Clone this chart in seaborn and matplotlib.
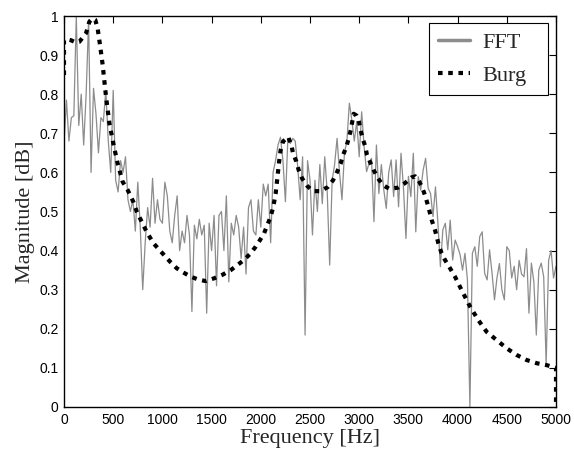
import numpy as np
import pandas as pd
import matplotlib
matplotlib.use("Agg")
import matplotlib.pyplot as plt
import seaborn as sns

# ---- data ----
fft_step = 25  # Hz between FFT bins
fft_mag = [
    # 0 - 475 Hz
    0.675, 0.785, 0.68, 0.74, 0.745, 1.0, 0.72, 0.80, 0.67, 0.80,
    0.99, 0.60, 0.815, 0.75, 0.65, 0.74, 0.73, 0.81, 0.68, 0.60,
    # 500 - 975 Hz
    0.81, 0.58, 0.55, 0.63, 0.60, 0.64, 0.53, 0.50, 0.53, 0.45,
    0.575, 0.46, 0.30, 0.42, 0.51, 0.46, 0.585, 0.47, 0.53, 0.48,
    # 1000 - 1475 Hz
    0.47, 0.575, 0.54, 0.45, 0.42, 0.49, 0.54, 0.40, 0.45, 0.42,
    0.49, 0.44, 0.244, 0.465, 0.43, 0.48, 0.44, 0.465, 0.24, 0.47,
    # 1500 - 1975 Hz
    0.40, 0.49, 0.31, 0.49, 0.50, 0.40, 0.54, 0.32, 0.47, 0.44,
    0.49, 0.46, 0.38, 0.46, 0.34, 0.51, 0.53, 0.45, 0.44, 0.53,
    # 2000 - 2475 Hz
    0.46, 0.57, 0.54, 0.57, 0.42, 0.60, 0.63, 0.67, 0.69, 0.63,
    0.525, 0.687, 0.674, 0.687, 0.68, 0.615, 0.53, 0.64, 0.184, 0.63,
    # 2500 - 2975 Hz
    0.58, 0.44, 0.58, 0.50, 0.62, 0.52, 0.64, 0.55, 0.363, 0.58,
    0.62, 0.687, 0.60, 0.53, 0.65, 0.68, 0.777, 0.734, 0.68, 0.73,
    # 3000 - 3475 Hz
    0.64, 0.755, 0.666, 0.602, 0.623, 0.636, 0.474, 0.67, 0.546, 0.62,
    0.555, 0.508, 0.60, 0.632, 0.538, 0.632, 0.512, 0.649, 0.56, 0.431,
    # 3500 - 3975 Hz
    0.59, 0.538, 0.649, 0.448, 0.589, 0.555, 0.606, 0.636, 0.56, 0.546,
    0.487, 0.563, 0.47, 0.359, 0.453, 0.47, 0.402, 0.478, 0.376, 0.427,
    # 4000 - 4475 Hz
    0.41, 0.39, 0.35, 0.393, 0.325, 0.0, 0.393, 0.41, 0.36, 0.436,
    0.448, 0.342, 0.325, 0.402, 0.342, 0.274, 0.33, 0.367, 0.30, 0.274,
    # 4500 - 5000 Hz
    0.41, 0.40, 0.33, 0.36, 0.30, 0.375, 0.34, 0.333, 0.405, 0.24,
    0.368, 0.32, 0.184, 0.35, 0.368, 0.333, 0.11, 0.375, 0.40, 0.33,
    0.36,
]
fft_freq = [i * fft_step for i in range(len(fft_mag))]

burg_freq = [
    0, 0, 37, 71, 122, 156, 190, 224, 257, 291, 318, 342, 366, 393, 427,
    461, 501, 545, 596, 647, 704, 739, 789, 840, 908, 976, 1026, 1084,
    1145, 1213, 1291, 1365, 1440, 1524, 1609, 1694, 1762, 1829, 1897,
    1948, 1992, 2033, 2066, 2100, 2127, 2151, 2168, 2185, 2200, 2226,
    2277, 2311, 2327, 2361, 2385, 2419, 2473, 2531, 2609, 2683, 2734,
    2775, 2812, 2836, 2870, 2893, 2914, 2944, 2975, 2995, 3012, 3035,
    3062, 3079, 3113, 3147, 3191, 3239, 3306, 3395, 3462, 3530, 3570,
    3598, 3638, 3672, 3703, 3737, 3771, 3804, 3838, 3872, 3923, 3974,
    4025, 4075, 4126, 4211, 4296, 4398, 4499, 4601, 4703, 4804, 4906,
    5000, 5000,
]
burg_mag = [
    0.849, 0.939, 0.94, 0.938, 0.932, 0.934, 0.945, 0.956, 0.985, 0.994,
    0.99, 0.968, 0.926, 0.875, 0.794, 0.726, 0.674, 0.623, 0.576, 0.555,
    0.525, 0.50, 0.474, 0.448, 0.419, 0.40, 0.386, 0.37, 0.355, 0.344,
    0.333, 0.326, 0.322, 0.329, 0.338, 0.35, 0.363, 0.376, 0.393, 0.41,
    0.427, 0.444, 0.465, 0.487, 0.512, 0.546, 0.585, 0.625, 0.655, 0.679,
    0.691, 0.67, 0.649, 0.628, 0.606, 0.585, 0.565, 0.552, 0.552, 0.563,
    0.58, 0.601, 0.623, 0.644, 0.666, 0.687, 0.708, 0.75, 0.745, 0.734,
    0.71, 0.687, 0.666, 0.645, 0.625, 0.606, 0.585, 0.568, 0.558, 0.561,
    0.572, 0.587, 0.59, 0.582, 0.563, 0.539, 0.512, 0.478, 0.452, 0.419,
    0.393, 0.376, 0.355, 0.333, 0.307, 0.282, 0.257, 0.222, 0.192, 0.171,
    0.150, 0.133, 0.120, 0.112, 0.107, 0.10, 0.0,
]

x_ticks = [0, 500, 1000, 1500, 2000, 2500, 3000, 3500, 4000, 4500, 5000]
y_ticks = [0, 0.1, 0.2, 0.3, 0.4, 0.5, 0.6, 0.7, 0.8, 0.9, 1.0]
y_tick_labels = ["0", "0.1", "0.2", "0.3", "0.4", "0.5", "0.6", "0.7", "0.8", "0.9", "1"]

# ---- style ----
sns.set_theme(style="white")
plt.rcParams['font.family'] = ['Liberation Sans', 'DejaVu Sans']
plt.rcParams['axes.edgecolor'] = 'black'
plt.rcParams['axes.linewidth'] = 1.0

fig = plt.figure(figsize=(5.74, 4.58), dpi=100)
ax = fig.add_axes([64 / 574, 51 / 458, 492 / 574, 391 / 458])

df_fft = pd.DataFrame({"Frequency": fft_freq, "Magnitude": fft_mag})
df_burg = pd.DataFrame({"Frequency": burg_freq, "Magnitude": burg_mag})

sns.lineplot(data=df_fft, x="Frequency", y="Magnitude", ax=ax, estimator=None,
             color="#8c8c8c", linewidth=0.9, label="FFT")
sns.lineplot(data=df_burg, x="Frequency", y="Magnitude", ax=ax, estimator=None,
             sort=False, color="black", linewidth=3.0, label="Burg",
             linestyle=(0, (1.1, 1.35)), dash_capstyle="butt")

ax.set_xlim(0, 5000)
ax.set_ylim(0, 1)
ax.set_xticks(x_ticks)
ax.set_xticklabels([str(t) for t in x_ticks])
ax.set_yticks(y_ticks)
ax.set_yticklabels(y_tick_labels)
ax.tick_params(direction="in", top=True, right=True, length=5, width=0.8,
               labelsize=10, colors="black", pad=4)
for s in ax.spines.values():
    s.set_color("black")
    s.set_linewidth(1.0)

serif = ['Liberation Serif', 'DejaVu Serif']
ax.set_xlabel("Frequency [Hz]", fontfamily=serif, fontsize=16, labelpad=2)
ax.set_ylabel("Magnitude [dB]", fontfamily=serif, fontsize=16, labelpad=3)

leg = ax.legend(loc="upper left", mode="expand",
                bbox_to_anchor=(0.742, 0.806, 0.242, 0.176),
                frameon=True, fancybox=False,
                edgecolor="black", framealpha=1,
                prop={"family": serif, "size": 16},
                borderaxespad=0.0, handlelength=1.4, handletextpad=0.6,
                labelspacing=0.55, borderpad=0.42)
leg.get_frame().set_linewidth(0.8)
leg.get_lines()[0].set_linewidth(2.5)

fig.savefig("out.png", dpi=100)
